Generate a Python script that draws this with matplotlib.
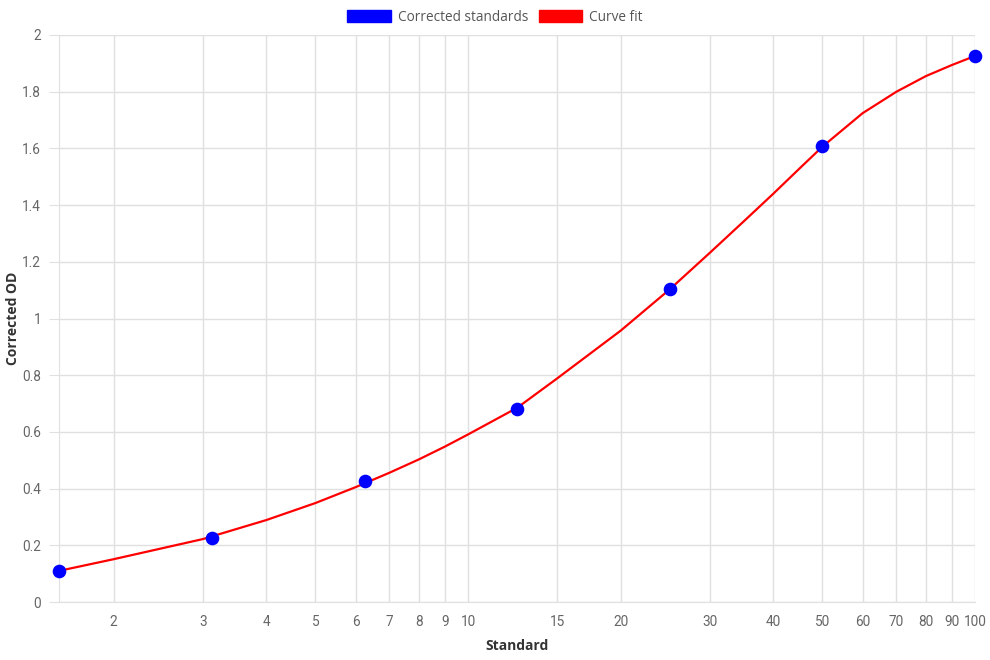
import matplotlib.pyplot as plt
from matplotlib.patches import Patch
from matplotlib.ticker import FixedLocator, NullLocator, FixedFormatter

# standards (concentration vs corrected OD)
std_x = [1.5625, 3.125, 6.25, 12.5, 25, 50, 100]
std_od = [0.110, 0.225, 0.427, 0.681, 1.103, 1.608, 1.926]

# curve fit
fit_x = [1.5625, 2, 3, 4, 5, 6, 7, 8, 9, 10, 12.5, 15, 20, 25, 30, 35, 40,
         45, 50, 60, 70, 80, 90, 100]
fit_od = [0.110, 0.151, 0.222, 0.289, 0.349, 0.405, 0.456, 0.503, 0.548,
          0.591, 0.685, 0.789, 0.957, 1.103, 1.232, 1.343, 1.440, 1.528,
          1.606, 1.724, 1.800, 1.855, 1.894, 1.926]

x_ticks = [2, 3, 4, 5, 6, 7, 8, 9, 10, 15, 20, 30, 40, 50, 60, 70, 80, 90, 100]
y_ticks = [0, 0.2, 0.4, 0.6, 0.8, 1, 1.2, 1.4, 1.6, 1.8, 2]

GRID = "#e0e0e0"
TICK_C = "#666666"
LABEL_FONT = ["Open Sans", "DejaVu Sans"]
TICK_FONT = ["Roboto", "DejaVu Sans"]

fig = plt.figure(figsize=(9.9, 6.6), dpi=100)
ax = fig.add_axes([59.3 / 990, 1 - 602 / 660, (975 - 59.3) / 990, (602 - 35) / 660])

ax.plot(fit_x, fit_od, color="red", lw=1.6, zorder=3, clip_on=False,
        solid_joinstyle="round")
ax.plot(std_x, std_od, "o", color="blue", markersize=8.8, zorder=4, clip_on=False)

ax.set_xscale("log")
ax.set_xlim(std_x[0], std_x[-1])
ax.set_ylim(0, 2)
ax.xaxis.set_major_locator(FixedLocator(x_ticks))
ax.xaxis.set_major_formatter(FixedFormatter([str(v) for v in x_ticks]))
ax.xaxis.set_minor_locator(NullLocator())
ax.set_yticks(y_ticks)
ax.set_yticklabels([f"{v:g}" for v in y_ticks])

ax.grid(True, color=GRID, lw=1)
for s in ax.spines.values():
    s.set_visible(False)
ax.spines["left"].set_visible(True)
ax.spines["bottom"].set_visible(True)
ax.spines["left"].set_color(GRID)
ax.spines["bottom"].set_color(GRID)
ax.tick_params(axis="x", length=0, pad=9, labelsize=9.8, labelcolor=TICK_C)
ax.tick_params(axis="y", length=7, color=GRID, pad=6, labelsize=9.8, labelcolor=TICK_C)
for lab in ax.get_xticklabels() + ax.get_yticklabels():
    lab.set_family(TICK_FONT)

ax.set_xlabel("Standard", fontsize=10, fontweight="bold", color="#333333",
              family=LABEL_FONT)
ax.xaxis.set_label_coords(0.5, -(646 - 602) / 567, transform=ax.transAxes)
ax.set_ylabel("Corrected OD", fontsize=10, fontweight="bold", color="#333333",
              family=LABEL_FONT)
ax.yaxis.set_label_coords(-(59.3 - 13) / 915.7, 0.5)
ax.xaxis.label.set_va("center")
ax.yaxis.label.set_va("center")

handles = [Patch(facecolor="blue", edgecolor="blue"),
           Patch(facecolor="red", edgecolor="red")]
fig.legend(handles, ["Corrected standards", "Curve fit"], loc="upper center",
           bbox_to_anchor=(0.5, 1.0), ncol=2, frameon=False,
           prop={"family": LABEL_FONT, "size": 9.8}, labelcolor="#555555",
           handlelength=3.2, handleheight=1.0, handletextpad=0.5,
           columnspacing=0.8, borderaxespad=0.3)

fig.savefig("out.png", dpi=100)
